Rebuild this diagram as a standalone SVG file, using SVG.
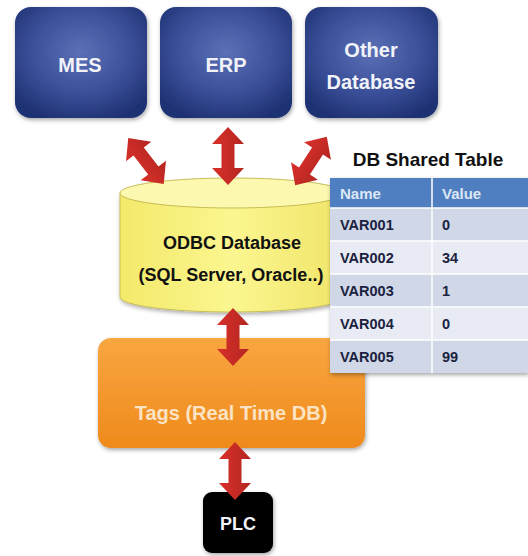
<svg xmlns="http://www.w3.org/2000/svg" width="528" height="556" viewBox="0 0 528 556">
<defs>
<radialGradient id="gBlue" cx="50%" cy="40%" r="65%">
<stop offset="0" stop-color="#5b70b6"/>
<stop offset="0.6" stop-color="#394e97"/>
<stop offset="1" stop-color="#1f3273"/>
</radialGradient>
<linearGradient id="gCyl" x1="0" y1="0" x2="1" y2="0">
<stop offset="0" stop-color="#f3e96a"/>
<stop offset="0.5" stop-color="#fbf690"/>
<stop offset="1" stop-color="#f0e468"/>
</linearGradient>
<linearGradient id="gOrange" x1="0" y1="0" x2="0" y2="1">
<stop offset="0" stop-color="#f9a640"/>
<stop offset="1" stop-color="#ef8a1c"/>
</linearGradient>
<linearGradient id="gRed" x1="0" y1="0" x2="1" y2="0">
<stop offset="0" stop-color="#d8302a"/>
<stop offset="1" stop-color="#b52621"/>
</linearGradient>
<filter id="sh" x="-10%" y="-10%" width="125%" height="130%">
<feDropShadow dx="1" dy="2" stdDeviation="2" flood-color="#000" flood-opacity="0.35"/>
</filter>
<path id="dArrow" d="M0,-29 L16,-12 L6.5,-12 L6.5,12 L16,12 L0,29 L-16,12 L-6.5,12 L-6.5,-12 L-16,-12 Z"/>
</defs>
<style>
.box{fill:url(#gBlue);filter:url(#sh)}
.wt{font-family:"Liberation Sans",Arial,sans-serif;font-weight:bold;fill:#f2f3f8;text-anchor:middle}
.bt{font-family:"Liberation Sans",Arial,sans-serif;font-weight:bold;fill:#111;text-anchor:middle}
.cell{font-family:"Liberation Sans",Arial,sans-serif;font-weight:bold;font-size:14.5px;fill:#1a2240}
.hd{font-family:"Liberation Sans",Arial,sans-serif;font-weight:bold;font-size:15px;fill:#dce6f5}
.arr{fill:url(#gRed)}
.rowA{fill:#d0d7e7}
.rowB{fill:#e8ebf3}
</style>
<rect width="528" height="556" fill="#ffffff"/>

<g id="mes">
<rect class="box" x="15" y="7" width="132" height="111" rx="16"/>
<text class="wt" x="80" y="72" font-size="20">MES</text>
</g>
<g id="erp">
<rect class="box" x="160" y="7" width="132" height="111" rx="16"/>
<text class="wt" x="226" y="72" font-size="20">ERP</text>
</g>
<g id="other">
<rect class="box" x="305" y="7" width="133" height="111" rx="16"/>
<text class="wt" x="371" y="57" font-size="20">Other</text>
<text class="wt" x="371" y="89" font-size="20">Database</text>
</g>

<g id="odbc">
<path d="M120,193 L120,297 A112,15 0 0 0 344,297 L344,193 Z" fill="url(#gCyl)" stroke="#c8bd55" stroke-width="1" filter="url(#sh)"/>
<ellipse cx="232" cy="193" rx="112" ry="15" fill="#fcf8b0" stroke="#c8bd55" stroke-width="1"/>
<text class="bt" x="232" y="249" font-size="18">ODBC Database</text>
<text class="bt" x="231" y="281" font-size="18">(SQL Server, Oracle..)</text>
</g>

<g id="tags">
<rect x="98" y="338" width="267" height="110" rx="13" fill="url(#gOrange)" filter="url(#sh)"/>
<text x="231" y="420" font-family="'Liberation Sans',Arial,sans-serif" font-weight="bold" font-size="20" fill="#fbe3c4" text-anchor="middle">Tags (Real Time DB)</text>
</g>

<g id="plc">
<rect x="203" y="492" width="70" height="61" rx="9" fill="#050505" filter="url(#sh)"/>
<text class="wt" x="238" y="530" font-size="18">PLC</text>
</g>

<g id="table">
<text class="bt" x="428" y="166" font-size="19">DB Shared Table</text>
<g filter="url(#sh)">
<rect x="330" y="178" width="198" height="195" fill="#e8ebf3"/>
</g>
<rect x="330" y="178" width="198" height="30" fill="#4f7fc0"/>
<rect class="rowA" x="330" y="208" width="198" height="33"/>
<rect class="rowB" x="330" y="241" width="198" height="33"/>
<rect class="rowA" x="330" y="274" width="198" height="33"/>
<rect class="rowB" x="330" y="307" width="198" height="33"/>
<rect class="rowA" x="330" y="340" width="198" height="33"/>
<g stroke="#ffffff" stroke-width="1.5">
<line x1="330" y1="208" x2="528" y2="208"/>
<line x1="330" y1="241" x2="528" y2="241"/>
<line x1="330" y1="274" x2="528" y2="274"/>
<line x1="330" y1="307" x2="528" y2="307"/>
<line x1="330" y1="340" x2="528" y2="340"/>
<line x1="432" y1="178" x2="432" y2="373"/>
</g>
<text class="hd" x="340" y="199">Name</text>
<text class="hd" x="442" y="199">Value</text>
<text class="cell" x="340" y="230">VAR001</text>
<text class="cell" x="442" y="230">0</text>
<text class="cell" x="340" y="263">VAR002</text>
<text class="cell" x="442" y="263">34</text>
<text class="cell" x="340" y="296">VAR003</text>
<text class="cell" x="442" y="296">1</text>
<text class="cell" x="340" y="329">VAR004</text>
<text class="cell" x="442" y="329">0</text>
<text class="cell" x="340" y="362">VAR005</text>
<text class="cell" x="442" y="362">99</text>
</g>

<g id="connectors">
<use href="#dArrow" class="arr" transform="translate(146,161) rotate(-37.7)"/>
<use href="#dArrow" class="arr" transform="translate(228,156)"/>
<use href="#dArrow" class="arr" transform="translate(311,161) rotate(33)"/>
<use href="#dArrow" class="arr" transform="translate(233,337)"/>
<use href="#dArrow" class="arr" transform="translate(235,471)"/>
</g>
</svg>
